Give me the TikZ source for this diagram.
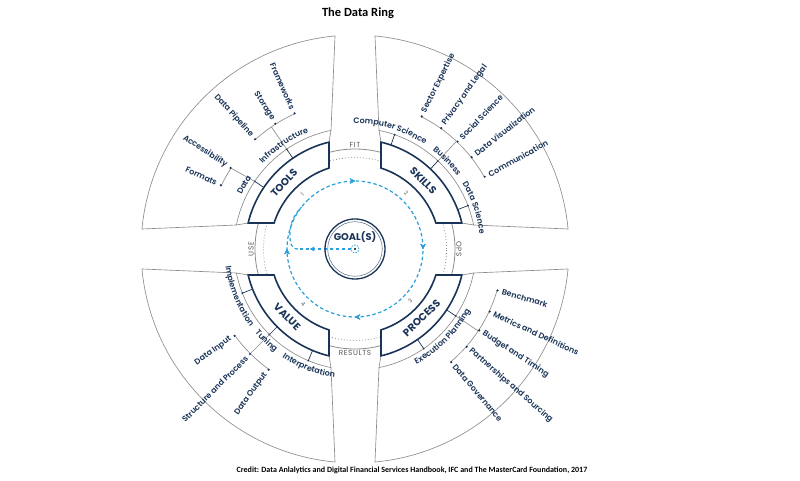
\documentclass[tikz,border=0pt]{standalone}
\usepackage{fontspec}
\usetikzlibrary{decorations.text,decorations.markings,arrows.meta}
\setmainfont{Poppins}
\newfontfamily\labf{Poppins SemiBold}
\newfontfamily\carl{Carlito}
\definecolor{navy}{HTML}{1A3458}
\definecolor{lgray}{HTML}{8C8C8C}
\definecolor{skyb}{HTML}{2A9FDB}
\definecolor{tgray}{HTML}{555555}
\newcommand\leaffont{\labf\fontsize{8}{9}\selectfont}
\newcommand\bandfont{\labf\fontsize{8}{9}\selectfont}
\newcommand\bigfont{\bfseries\fontsize{10.3}{12}\selectfont}
\newcommand\ringfont{\fontsize{7.3}{8}\selectfont\addfontfeatures{LetterSpace=8}}
\newcommand\bandup[2]{\path[decorate,decoration={text along path,text align=center,text={|\bandfont\color{navy}|#2}}] ({#1+30}:125.5) arc[start angle={#1+30}, end angle={#1-30}, radius=125.5];}
\newcommand\banddown[2]{\path[decorate,decoration={text along path,text align=center,text={|\bandfont\color{navy}|#2}}] ({#1-30}:130.5) arc[start angle={#1-30}, end angle={#1+30}, radius=130.5];}
\begin{document}
\begin{tikzpicture}[x=1pt,y=1pt,
 darksec/.style={draw=navy, line width=1.6pt, fill=white, line join=miter},
 grayline/.style={draw=lgray, line width=0.65pt},
 tickline/.style={draw=navy, line width=0.7pt},
 conn/.style={draw=lgray, line width=0.65pt},
 bluedash/.style={draw=skyb, line width=1.2pt, dash pattern=on 3.5pt off 2.5pt},
 leafR/.style={font=\leaffont, text=navy, anchor=west, inner sep=0pt},
 leafL/.style={font=\leaffont, text=navy, anchor=east, inner sep=0pt},
 biglab/.style={font=\bigfont, text=navy, inner sep=0pt},
 ringlab/.style={font=\ringfont, text=tgray, inner sep=0pt},
 numlab/.style={font=\fontsize{5.5}{6}\selectfont, text=tgray, inner sep=0pt},
 arr/.style={decoration={markings, mark=at position #1 with {\arrow{Stealth[length=5pt,width=5pt]}}}, postaction={decorate}}
]
\useasboundingbox (-355,-232) rectangle (445,249);

% ring circles
\draw[lgray, line width=0.8pt] (0,0) circle (100);
\draw[lgray, line width=0.8pt, dash pattern=on 0.8pt off 2.2pt] (0,0) circle (91.5);

% quadrants
\foreach \rot in {0,-90,-180,-270}{
\begin{scope}[rotate=\rot]
 \draw[darksec] ({90+asin(26/85)}:85) -- ({90+asin(26/110)}:110) arc[start angle={90+asin(26/110)}, end angle={180-asin(26/110)}, radius=110] -- ({180-asin(26/85)}:85) arc[start angle={180-asin(26/85)}, end angle={90+asin(26/85)}, radius=85] -- cycle;
 \draw[grayline] ({90+asin(26/110)}:110) -- ({90+asin(24/121)}:121) -- ({90+asin(20/214)}:214) arc[start angle={90+asin(20/214)}, end angle={180-asin(20/214)}, radius=214] -- ({180-asin(24/121)}:121) -- ({180-asin(26/110)}:110);
 \draw[grayline] ({90+asin(24/121)}:121) arc[start angle={90+asin(24/121)}, end angle={180-asin(24/121)}, radius=121];
\end{scope}
}

% ring labels
\node[ringlab] (fit) at (90:104.5) {FIT};
\node[ringlab, rotate=-90] (ops) at (0:104) {OPS};
\node[ringlab] (results) at (270:104) {RESULTS};
\node[ringlab, rotate=90] (use) at (180:104) {USE};

% blue loop
\draw[bluedash, arr=0.125, arr=0.375, arr=0.625, arr=0.875] (135:68) arc[start angle=135, end angle=-225, radius=68];
\draw[bluedash, arr=0.78] (-4,0) -- (-57,0);
\draw[bluedash] (-57,0) .. controls (-64,0) and (-65,6) .. (-65,14) .. controls (-65,25) and (-62,33) .. (142:68);
\draw[skyb, line width=0.8pt, dash pattern=on 1.5pt off 1.2pt] (0,0) circle (4);
\fill[black] (0,0) circle (1.1);

% goal
\draw[navy, line width=1.3pt] (0,0) circle (30);
\draw[navy!75, line width=0.5pt] (0,0) circle (27.3);
\node[font=\bfseries\fontsize{9.8}{11}\selectfont, text=navy] (goal) at (0,12) {GOAL(S)};

% numbers
\node[numlab, rotate=44] (n1) at (133.7:76) {1};
\node[numlab, rotate=-42] (n2) at (47.6:76) {2};
\node[numlab, rotate=47] (n3) at (-43.4:76) {3};
\node[numlab, rotate=-43] (n4) at (-133:76) {4};

% dark labels
\node[biglab, rotate=47] (tools) at (137:97) {TOOLS};
\node[biglab, rotate=-45] (skills) at (45:96.5) {SKILLS};
\node[biglab, rotate=44] (process) at (-46:96) {PROCESS};
\node[biglab, rotate=-45] (value) at (-135:96) {VALUE};

% ticks
\foreach \a in {146,124.4,70.9,46.7,21,-55.4,-33.6,201.4,225,247.3}{
 \draw[tickline] (\a:110) -- (\a:121);
 \fill[navy] (\a:121) circle (1);
}

% connectors and brackets
\draw[conn] (146:121) -- (146.9:148);
\draw[conn] (146.9:148) arc[start angle=146.9, end angle=154.6, radius=148];
\draw[conn] (124.4:121) -- (124.4:148);
\draw[conn] (114:148) arc[start angle=114, end angle=132.3, radius=148];
\draw[conn] (46.7:121) -- (46.7:148);
\draw[conn] (63.3:148) arc[start angle=63.3, end angle=29.1, radius=148];
\draw[conn] (-33.6:121) -- (-33.6:148);
\draw[conn] (-16.2:148) arc[start angle=-16.2, end angle=-49.6, radius=148];
\draw[conn] (225:121) -- (225:148);
\draw[conn] (215.8:148) arc[start angle=215.8, end angle=234.4, radius=148];

% leaves
\foreach \a/\t [count=\i] in {114/Frameworks,122.5/Storage,132.3/Data Pipeline,146.9/Accessibility,154.6/Formats}{
 \fill[navy] (\a:148.5) circle (1.2);
 \node[leafL, rotate={\a-180}] (tl\i) at (\a:153) {\t};
}
\foreach \a/\t [count=\i] in {215.8/Data Input,225/Structure and Process,234.4/Data Output}{
 \fill[navy] (\a:148.5) circle (1.2);
 \node[leafL, rotate={\a-180}] (bl\i) at (\a:153) {\t};
}
\foreach \a/\t [count=\i] in {63.3/Sector Expertise,54.5/Privacy and Legal,46.3/Social Science,38.2/Data Visualization,29.1/Communication}{
 \fill[navy] (\a:148.5) circle (1.2);
 \node[leafR, rotate=\a] (tr\i) at (\a:153) {\t};
}
\foreach \a/\t [count=\i] in {-16.2/Benchmark,-24.9/Metrics and Definitions,-33.2/Budget and Timing,-41.2/Partnerships and Sourcing,-49.6/Data Governance}{
 \fill[navy] (\a:148.5) circle (1.2);
 \node[leafR, rotate=\a] (br\i) at (\a:153) {\t};
}

% band labels
\bandup{150}{Data}
\bandup{124.5}{Infrastructure}
\bandup{73.5}{Computer Science}
\bandup{43.6}{Business}
\bandup{19}{Data Science}
\banddown{-45}{Execution Planning}
\banddown{202}{Implementation}
\banddown{226}{Tuning}
\banddown{248.5}{Interpretation}

% title and credit
\node[font=\carl\bfseries\fontsize{12.5}{14}\selectfont] (title) at (3,236) {The Data Ring};
\node[font=\carl\bfseries\fontsize{8}{9}\selectfont] (credit) at (57,-221) {Credit: Data Anlalytics and Digital Financial Services Handbook, IFC and The MasterCard Foundation, 2017};
\end{tikzpicture}
\end{document}
